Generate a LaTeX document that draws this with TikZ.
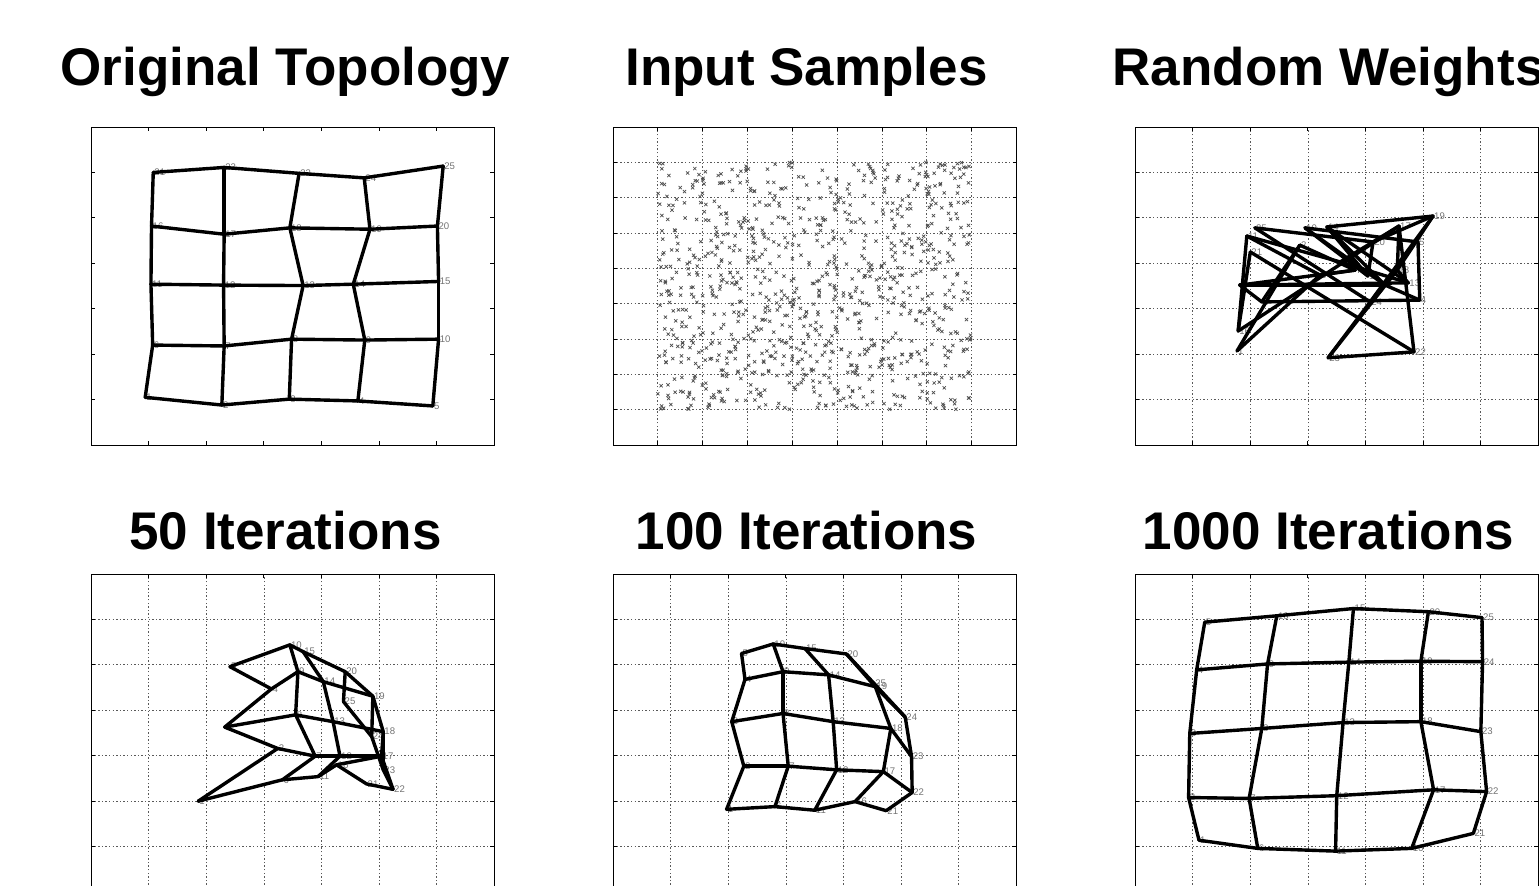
\documentclass[tikz,border=0pt]{standalone}
\usepackage{fontspec}
\setmainfont{Liberation Sans}

\tikzset{
  heading/.style={font=\bfseries\fontsize{26.5}{30}\selectfont, anchor=base, inner sep=0pt},
  axframe/.style={black, line width=0.5pt},
  axtick/.style={black, line width=0.5pt},
  gridline/.style={black!65, line width=0.4pt, dash pattern=on 0.7pt off 1.1pt},
  link/.style={black, line width=1.7pt, line join=round, line cap=round},
  num/.style={font=\fontsize{4.8}{5.5}\selectfont, text=black!55, anchor=west, inner sep=0.4pt},
  smark/.style={black!70, line width=0.35pt},
}

% axes box with n intervals, inward ticks, optional dotted grid
\newcommand{\axesbox}[2]{%
  \pgfmathtruncatemacro{\last}{#1-1}%
  \foreach \t in {1,...,\last} {%
    \draw[gridline,#2] (\t,0) -- (\t,#1);
    \draw[gridline,#2] (0,\t) -- (#1,\t);
    \draw[axtick] (\t,0) -- ++(0pt,2pt);
    \draw[axtick] (\t,#1) -- ++(0pt,-2pt);
    \draw[axtick] (0,\t) -- ++(2pt,0pt);
    \draw[axtick] (#1,\t) -- ++(-2pt,0pt);
  }%
  \draw[axframe] (0,0) rectangle (#1,#1);}

% 5x5 map: weight positions and their numbers
\newcommand{\somnodes}[2]{%
  \foreach \n/\x/\y in {#2} {%
    \coordinate (#1\n) at (\x,\y);
    \node[num] (#1\n-l) at (#1\n) {\n};
  }}

% neighbour links of the 5x5 map
\newcommand{\somlinks}[1]{%
  \foreach \i in {1,...,25} {%
    \pgfmathtruncatemacro{\rem}{mod(\i,5)}%
    \pgfmathtruncatemacro{\nxt}{\i+1}%
    \pgfmathtruncatemacro{\up}{\i+5}%
    \ifnum\rem>0 \draw[link] (#1\i) -- (#1\nxt);\fi
    \ifnum\i<21 \draw[link] (#1\i) -- (#1\up);\fi
  }}

\begin{document}
\begin{tikzpicture}[x=0.5pt,y=-0.5pt]
\useasboundingbox (0,0) rectangle (1539,885);
\clip (0,0) rectangle (1539,885);

\node[heading] (t1) at (285.5,85) {Original Topology};
\node[heading] (t2) at (806.5,85) {Input Samples};
\node[heading] (t3) at (1328.5,85) {Random Weights};
\node[heading] (t4) at (285.5,549) {50 Iterations};
\node[heading] (t5) at (806.5,549) {100 Iterations};
\node[heading] (t6) at (1328.5,549) {1000 Iterations};

% original topology
\begin{scope}[shift={(91,445)},x=28.82pt,y=22.714pt]
  \axesbox{7}{draw=none}
  \somnodes{o}{1/0.94/1.05, 2/2.27/0.88, 3/3.44/1.01, 4/4.63/0.97, 5/5.93/0.86,
    6/1.07/2.20, 7/2.31/2.18, 8/3.48/2.33, 9/4.75/2.31, 10/6.03/2.33,
    11/1.04/3.54, 12/2.30/3.52, 13/3.68/3.51, 14/4.55/3.54, 15/6.03/3.60,
    16/1.05/4.82, 17/2.31/4.64, 18/3.45/4.78, 19/4.84/4.75, 20/6.01/4.82,
    21/1.08/6.00, 22/2.31/6.11, 23/3.61/5.98, 24/4.74/5.88, 25/6.11/6.14}
  \somlinks{o}
\end{scope}

% input samples
\begin{scope}[shift={(613,445)},x=22.417pt,y=17.667pt]
  \axesbox{9}{}
  \pgfmathsetseed{11}
  \foreach \s in {1,...,1000} {
    \pgfmathsetmacro{\sx}{1+7*rnd}
    \pgfmathsetmacro{\sy}{1+7*rnd}
    \draw[smark] (\sx,\sy) +(-0.8pt,-0.8pt) -- +(0.8pt,0.8pt) +(-0.8pt,0.8pt) -- +(0.8pt,-0.8pt);
  }
\end{scope}

% random weights
\begin{scope}[shift={(1135,445)},x=28.82pt,y=22.714pt]
  \axesbox{7}{}
  \somnodes{r}{1/1.77/2.07, 2/2.86/4.40, 3/2.20/3.15, 4/4.94/3.19, 5/4.91/4.47,
    6/3.21/3.74, 7/3.82/3.85, 8/1.82/3.52, 9/4.34/3.52, 10/2.95/4.78,
    11/1.94/4.60, 12/3.56/4.03, 13/4.74/3.57, 14/3.33/4.80, 15/4.04/3.72,
    16/1.79/2.51, 17/4.58/4.82, 18/4.55/3.85, 19/5.17/5.04, 20/4.13/4.47,
    21/2.00/4.25, 22/4.84/2.05, 23/3.35/1.92, 24/4.08/3.15, 25/2.08/4.78}
  \somlinks{r}
\end{scope}

% after 50 iterations
\begin{scope}[shift={(91,892)},x=28.82pt,y=22.714pt]
  \axesbox{7}{}
  \somnodes{p}{1/1.86/2.00, 2/3.24/3.16, 3/2.32/3.63, 4/3.13/4.47, 5/2.41/4.96,
    6/3.32/2.47, 7/3.89/2.99, 8/3.55/3.90, 9/3.59/4.85, 10/3.45/5.44,
    11/3.94/2.54, 12/4.32/2.99, 13/4.20/3.75, 14/4.03/4.63, 15/3.68/5.29,
    16/4.26/2.80, 17/5.04/2.99, 18/5.07/3.53, 19/4.89/4.31, 20/4.41/4.85,
    21/4.78/2.38, 22/5.24/2.26, 23/5.07/2.69, 24/4.87/3.42, 25/4.38/4.19}
  \somlinks{p}
\end{scope}

% after 100 iterations
\begin{scope}[shift={(613,892)},x=28.82pt,y=22.714pt]
  \axesbox{7}{}
  \somnodes{q}{1/1.97/1.82, 2/2.27/2.77, 3/2.06/3.75, 4/2.29/4.68, 5/2.23/5.25,
    6/2.81/1.88, 7/3.04/2.77, 8/2.95/3.93, 9/2.95/4.85, 10/2.78/5.46,
    11/3.50/1.80, 12/3.88/2.69, 13/3.82/3.75, 14/3.74/4.78, 15/3.33/5.36,
    16/4.20/1.99, 17/4.69/2.65, 18/4.82/3.60, 19/4.55/4.52, 20/4.05/5.24,
    21/4.74/1.79, 22/5.19/2.19, 23/5.18/2.98, 24/5.07/3.85, 25/4.53/4.59}
  \somlinks{q}
\end{scope}

% after 1000 iterations
\begin{scope}[shift={(1135,892)},x=28.82pt,y=22.714pt]
  \axesbox{7}{}
  \somnodes{s}{1/1.11/1.14, 2/0.93/2.08, 3/0.95/3.49, 4/1.07/4.89, 5/1.21/5.94,
    6/2.13/0.96, 7/1.98/2.06, 8/2.20/3.60, 9/2.30/5.02, 10/2.46/6.08,
    11/3.48/0.90, 12/3.50/2.12, 13/3.61/3.73, 14/3.71/5.06, 15/3.79/6.24,
    16/4.80/0.96, 17/5.18/2.25, 18/4.96/3.75, 19/4.96/5.08, 20/5.09/6.17,
    21/5.87/1.29, 22/6.10/2.21, 23/6.00/3.53, 24/6.03/5.07, 25/6.02/6.04}
  \somlinks{s}
\end{scope}
\end{tikzpicture}
\end{document}
